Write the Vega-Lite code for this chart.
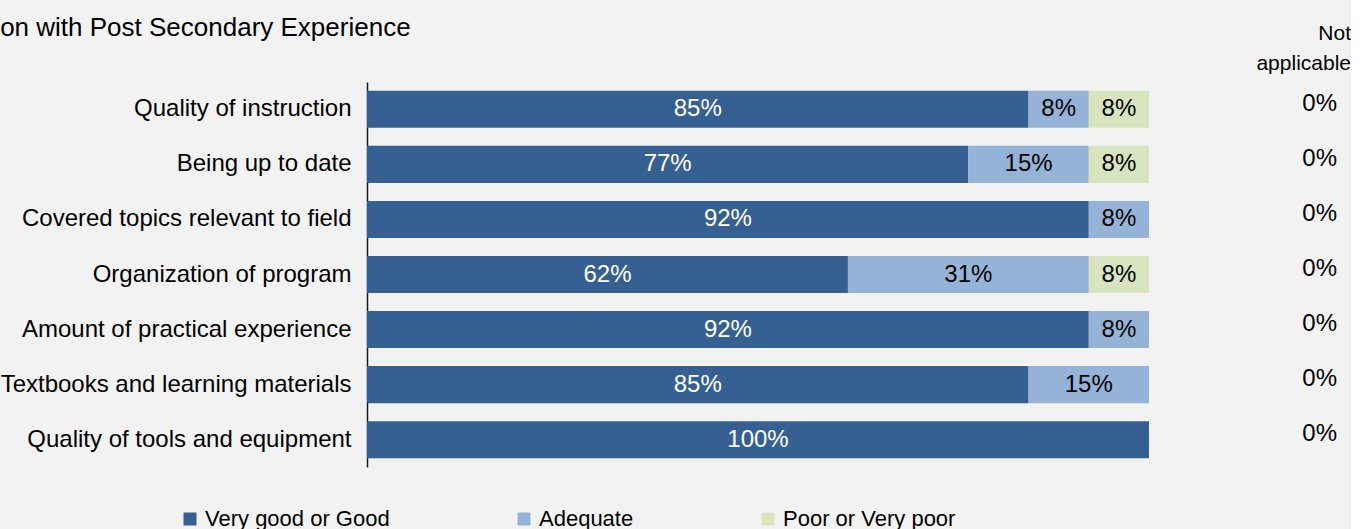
{
  "$schema": "https://vega.github.io/schema/vega-lite/v6.json",
  "background": "#f2f2f2",
  "padding": {"left": 0, "top": 15, "right": 0, "bottom": 0},
  "autosize": {"type": "pad"},
  "config": {
    "font": "Liberation Sans",
    "view": {"stroke": null},
    "concat": {"spacing": 87}
  },
  "datasets": {
    "ratings": [
      {"item": "Quality of instruction", "rating": "Very good or Good", "rank": 1, "value": 84.6, "label": "85%"},
      {"item": "Quality of instruction", "rating": "Adequate", "rank": 2, "value": 7.7, "label": "8%"},
      {"item": "Quality of instruction", "rating": "Poor or Very poor", "rank": 3, "value": 7.7, "label": "8%"},
      {"item": "Being up to date", "rating": "Very good or Good", "rank": 1, "value": 76.9, "label": "77%"},
      {"item": "Being up to date", "rating": "Adequate", "rank": 2, "value": 15.4, "label": "15%"},
      {"item": "Being up to date", "rating": "Poor or Very poor", "rank": 3, "value": 7.7, "label": "8%"},
      {"item": "Covered topics relevant to field", "rating": "Very good or Good", "rank": 1, "value": 92.3, "label": "92%"},
      {"item": "Covered topics relevant to field", "rating": "Adequate", "rank": 2, "value": 7.7, "label": "8%"},
      {"item": "Organization of program", "rating": "Very good or Good", "rank": 1, "value": 61.5, "label": "62%"},
      {"item": "Organization of program", "rating": "Adequate", "rank": 2, "value": 30.8, "label": "31%"},
      {"item": "Organization of program", "rating": "Poor or Very poor", "rank": 3, "value": 7.7, "label": "8%"},
      {"item": "Amount of practical experience", "rating": "Very good or Good", "rank": 1, "value": 92.3, "label": "92%"},
      {"item": "Amount of practical experience", "rating": "Adequate", "rank": 2, "value": 7.7, "label": "8%"},
      {"item": "Textbooks and learning materials", "rating": "Very good or Good", "rank": 1, "value": 84.6, "label": "85%"},
      {"item": "Textbooks and learning materials", "rating": "Adequate", "rank": 2, "value": 15.4, "label": "15%"},
      {"item": "Quality of tools and equipment", "rating": "Very good or Good", "rank": 1, "value": 100, "label": "100%"}
    ],
    "na": [
      {"item": "Quality of instruction", "label": "0%"},
      {"item": "Being up to date", "label": "0%"},
      {"item": "Covered topics relevant to field", "label": "0%"},
      {"item": "Organization of program", "label": "0%"},
      {"item": "Amount of practical experience", "label": "0%"},
      {"item": "Textbooks and learning materials", "label": "0%"},
      {"item": "Quality of tools and equipment", "label": "0%"}
    ]
  },
  "hconcat": [
    {
      "width": 782,
      "height": 385,
      "title": {
        "text": "on with Post Secondary Experience",
        "anchor": "start",
        "frame": "bounds",
        "fontSize": 26,
        "fontWeight": "normal",
        "color": "#000000",
        "offset": 41
      },
      "data": {"name": "ratings"},
      "transform": [
        {"stack": "value", "groupby": ["item"], "sort": [{"field": "rank", "order": "ascending"}], "as": ["v0", "v1"]},
        {"calculate": "(datum.v0 + datum.v1) / 2", "as": "mid"}
      ],
      "encoding": {
        "y": {
          "field": "item",
          "type": "nominal",
          "sort": ["Quality of instruction", "Being up to date", "Covered topics relevant to field", "Organization of program", "Amount of practical experience", "Textbooks and learning materials", "Quality of tools and equipment"],
          "scale": {"paddingInner": 0.327, "paddingOuter": 0.16},
          "title": null,
          "axis": {
            "ticks": false,
            "labelFontSize": 24,
            "labelColor": "#000000",
            "labelPadding": 16,
            "labelLimit": 500,
            "domainColor": "#1a1a1a",
            "domainWidth": 1.5
          }
        }
      },
      "layer": [
        {
          "mark": {"type": "bar"},
          "encoding": {
            "x": {"field": "v0", "type": "quantitative", "scale": {"domain": [0, 100]}, "axis": null},
            "x2": {"field": "v1"},
            "color": {
              "field": "rating",
              "type": "nominal",
              "scale": {"domain": ["Very good or Good", "Adequate", "Poor or Very poor"], "range": ["#366092", "#95b3d7", "#d7e4bd"]},
              "legend": {
                "title": null,
                "orient": "none",
                "direction": "horizontal",
                "legendX": -188,
                "legendY": 426,
                "symbolType": "square",
                "symbolSize": 169,
                "symbolStrokeWidth": 0,
                "labelFontSize": 22,
                "labelColor": "#000000",
                "labelLimit": 400,
                "labelOffset": 4,
                "columnPadding": 123
              }
            }
          }
        },
        {
          "mark": {"type": "text", "fontSize": 24},
          "encoding": {
            "x": {"field": "mid", "type": "quantitative"},
            "text": {"field": "label"},
            "color": {"condition": {"test": "datum.rating === 'Very good or Good'", "value": "#ffffff"}, "value": "#000000"}
          }
        }
      ]
    },
    {
      "width": 100,
      "height": 385,
      "data": {"name": "na"},
      "title": {"text": ["Not", "applicable"], "anchor": "end", "fontSize": 21, "fontWeight": "normal", "color": "#000000", "lineHeight": 30, "dx": 14, "offset": 8},
      "mark": {"type": "text", "fontSize": 24, "color": "#000000", "align": "right", "dy": -6},
      "encoding": {
        "x": {"value": "width"},
        "y": {
          "field": "item",
          "type": "nominal",
          "sort": ["Quality of instruction", "Being up to date", "Covered topics relevant to field", "Organization of program", "Amount of practical experience", "Textbooks and learning materials", "Quality of tools and equipment"],
          "scale": {"paddingInner": 0.327, "paddingOuter": 0.16},
          "axis": null
        },
        "text": {"field": "label"}
      }
    }
  ]
}
